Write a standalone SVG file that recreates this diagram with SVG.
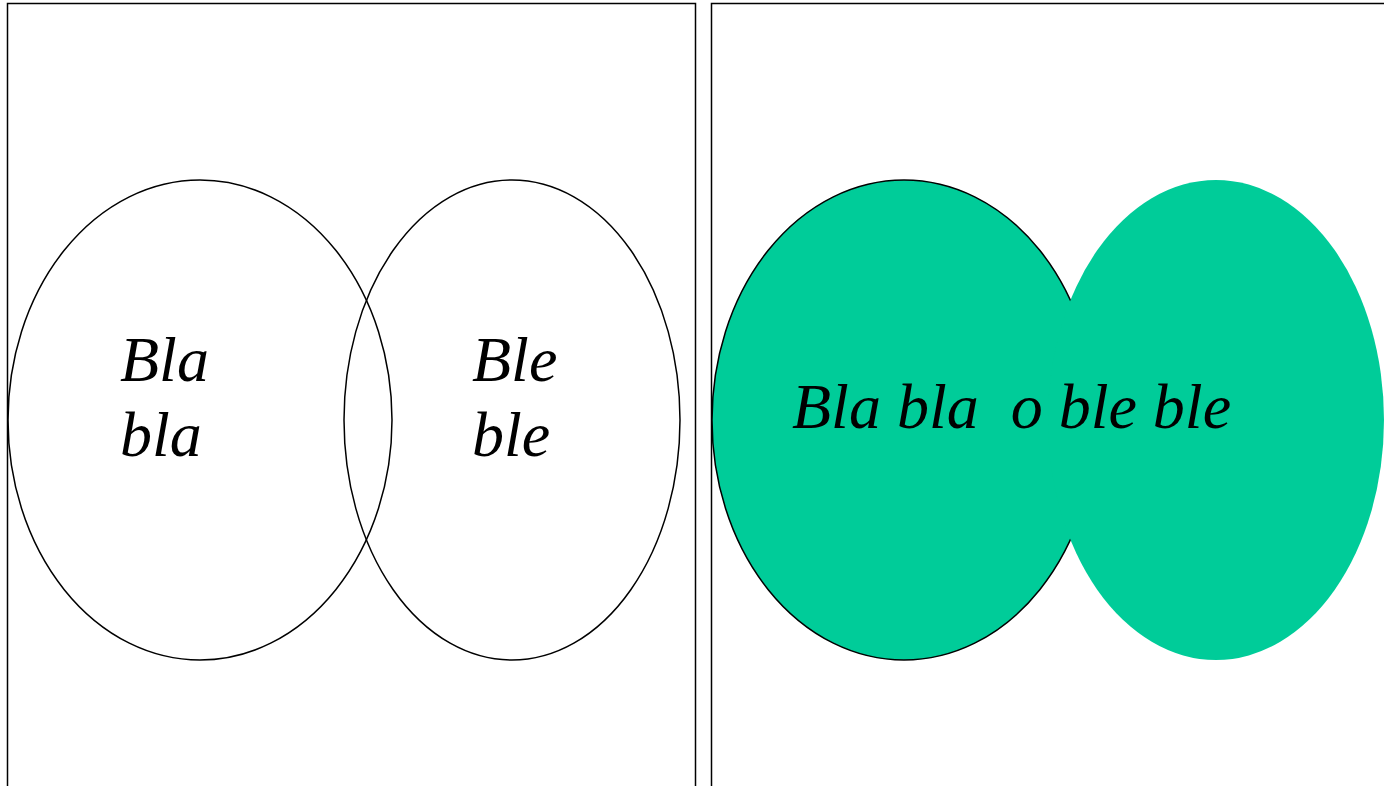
<svg xmlns="http://www.w3.org/2000/svg" width="1384" height="786" viewBox="0 0 1384 786">
<style>
.frame{fill:none;stroke:#000;stroke-width:1.5}
.ring{fill:none;stroke:#000;stroke-width:1.5}
.t{font-family:"Liberation Serif","Times New Roman",serif;font-style:italic;font-size:64px;fill:#000}
</style>
<rect width="1384" height="786" fill="#fff"/>
<g id="left-panel">
<rect class="frame" x="7.5" y="3.5" width="688" height="800"/>
<g id="set-a"><ellipse class="ring" cx="200" cy="420" rx="192" ry="240"/>
<text class="t" x="120" y="381">Bla</text><text class="t" x="120" y="456">bla</text></g>
<g id="set-b"><ellipse class="ring" cx="512" cy="420" rx="168" ry="240"/>
<text class="t" x="472" y="381">Ble</text><text class="t" x="472" y="456">ble</text></g>
</g>
<g id="right-panel">
<rect class="frame" x="711.5" y="3.5" width="700" height="800"/>
<g id="union">
<ellipse cx="904" cy="420" rx="192" ry="240" fill="#00CC99" stroke="#000" stroke-width="1.5"/>
<ellipse cx="1216" cy="420" rx="168" ry="240" fill="#00CC99"/>
<text class="t" x="792" y="428" xml:space="preserve">Bla bla  o ble ble</text>
</g>
</g>
<g id="connectors"/>
</svg>
